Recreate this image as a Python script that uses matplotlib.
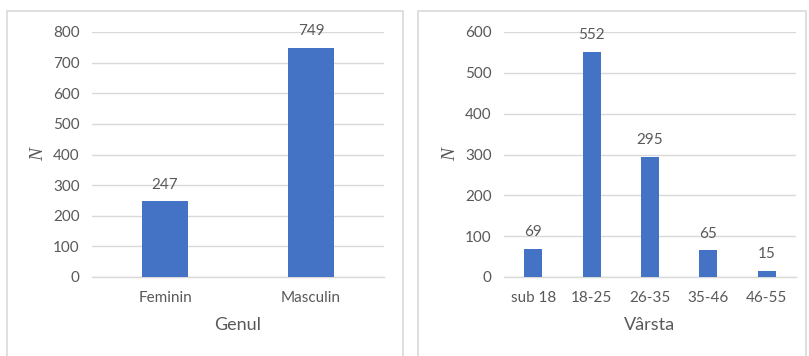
import matplotlib.pyplot as plt
from matplotlib.patches import Rectangle

# numar de respondenti pe gen si pe grupe de varsta
gen_categorii = ['Feminin', 'Masculin']
gen_valori = [247, 749]

varsta_categorii = ['sub 18', '18-25', '26-35', '35-46', '46-55']
varsta_valori = [69, 552, 295, 65, 15]

BAR = '#4472C4'
GRID = '#D9D9D9'
TEXT = '#595959'

plt.rcParams['font.family'] = ['Lato', 'DejaVu Sans']

W, H = 809, 356
fig = plt.figure(figsize=(W / 100, H / 100), dpi=100)


def px_axes(x0, y_top, x1, y_bot):
    return fig.add_axes([x0 / W, 1 - y_bot / H, (x1 - x0) / W, (y_bot - y_top) / H])


def chenar(x0, y0, x1):
    # cadrul gri al fiecarui grafic, deschis jos
    fig.patches.append(Rectangle((x0 / W, -0.1), (x1 - x0) / W, 1.1 - y0 / H,
                                 transform=fig.transFigure, fill=False,
                                 edgecolor=GRID, linewidth=1.2))


def grafic(ax, categorii, valori, ymax, xlabel):
    x = range(len(categorii))
    bars = ax.bar(x, valori, width=0.31, color=BAR, zorder=3)
    ax.bar_label(bars, padding=7, fontsize=11, color=TEXT)
    ax.set_xlim(-0.5, len(categorii) - 0.5)
    ax.set_ylim(0, ymax)
    ax.set_yticks(range(0, ymax + 1, 100))
    ax.set_xticks(list(x))
    ax.set_xticklabels(categorii)
    ax.yaxis.grid(True, color=GRID, linewidth=1, zorder=0)
    for s in ['top', 'right', 'left']:
        ax.spines[s].set_visible(False)
    ax.spines['bottom'].set_color(GRID)
    ax.spines['bottom'].set_linewidth(1)
    ax.tick_params(axis='both', length=0, labelsize=11, labelcolor=TEXT)
    ax.tick_params(axis='x', pad=10)
    ax.tick_params(axis='y', pad=9)
    ax.set_xlabel(xlabel, fontsize=13, color=TEXT, labelpad=9)
    ax.set_ylabel('N', fontsize=14, color=TEXT, labelpad=4,
                  family='Liberation Serif', style='italic')


chenar(7, 11, 403)
chenar(418, 11, 806)

ax1 = px_axes(92, 32, 384, 277)
grafic(ax1, gen_categorii, gen_valori, 800, 'Genul')

ax2 = px_axes(504, 32, 796, 277)
grafic(ax2, varsta_categorii, varsta_valori, 600, 'Vârsta')

fig.savefig('out.png', dpi=100)
